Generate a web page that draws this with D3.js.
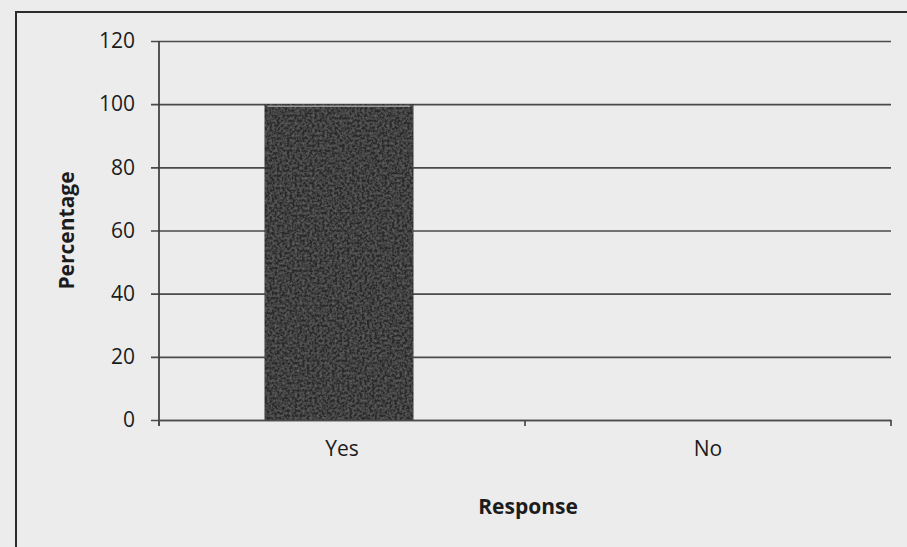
<!DOCTYPE html>
<html>
<head>
<meta charset="utf-8">
<script src="https://cdn.jsdelivr.net/npm/d3@7"></script>
<style>
  html, body { margin: 0; padding: 0; background: #ececec; }
  svg { display: block; }
  text { font-family: "Open Sans", Lato, sans-serif; fill: #1c1c1c; }
</style>
</head>
<body>
<svg id="chart" width="907" height="547"></svg>
<script>
// Survey responses (percentage of respondents)
const categories = ["Yes", "No"];
const values = [100, 0];
const yTicks = [0, 20, 40, 60, 80, 100, 120];
const xTitle = "Response";
const yTitle = "Percentage";

const W = 907, H = 547;
const plot = { left: 159, right: 891, top: 41, bottom: 420 };
const FONT = "'Open Sans', Lato, sans-serif";

const svg = d3.select("#chart");

// Grain texture for the filled bar
const defs = svg.append("defs");
const f = defs.append("filter").attr("id", "grain").attr("x", 0).attr("y", 0).attr("width", 1).attr("height", 1);
f.append("feTurbulence").attr("type", "fractalNoise").attr("baseFrequency", 0.4).attr("numOctaves", 2).attr("seed", 7).attr("result", "noise");
f.append("feColorMatrix").attr("in", "noise").attr("type", "matrix")
  .attr("values", "0 0 0 0 0.33  0 0 0 0 0.33  0 0 0 0 0.33  0 0 0 0.6 -0.2").attr("result", "speck");
f.append("feComposite").attr("in", "speck").attr("in2", "SourceGraphic").attr("operator", "in").attr("result", "specks");
f.append("feMerge").call(m => { m.append("feMergeNode").attr("in", "SourceGraphic"); m.append("feMergeNode").attr("in", "specks"); });

// Chart frame
svg.append("rect")
  .attr("x", 16).attr("y", 12).attr("width", W + 20).attr("height", H + 20)
  .attr("fill", "none").attr("stroke", "#2b2b2b").attr("stroke-width", 2);

const x = d3.scaleBand().domain(categories).range([plot.left, plot.right]).paddingInner(0).paddingOuter(0);
const y = d3.scaleLinear().domain([0, 120]).range([plot.bottom, plot.top]);

// Horizontal gridlines with left tick stubs
const yAxis = d3.axisLeft(y).tickValues(yTicks).tickSize(-(plot.right - plot.left)).tickPadding(24).tickSizeOuter(0);
const gy = svg.append("g").attr("transform", `translate(${plot.left},0)`).call(yAxis);
gy.select(".domain").remove();
gy.selectAll(".tick line").attr("x1", -8).attr("stroke", "#4a4a4a").attr("stroke-width", 1.7);
gy.selectAll(".tick text").attr("font-size", 21).attr("fill", "#1c1c1c").style("font-family", FONT);

// Vertical axis line
svg.append("line")
  .attr("x1", plot.left).attr("x2", plot.left).attr("y1", y(120)).attr("y2", plot.bottom + 6)
  .attr("stroke", "#3a3a3a").attr("stroke-width", 1.7);

// Bars
const bw = x.bandwidth() * 0.407;
const barData = categories.map((c, i) => ({ c, v: values[i] }));
svg.append("g").selectAll("rect").data(barData)
  .join("rect")
  .attr("x", d => x(d.c) + (x.bandwidth() - bw) / 2 - 3)
  .attr("y", d => y(d.v))
  .attr("width", bw)
  .attr("height", d => y(0) - y(d.v))
  .attr("fill", "#2c2c2c")
  .attr("filter", "url(#grain)");

// Light bevel along the bar top
svg.append("g").selectAll("line").data(barData.filter(d => d.v > 0))
  .join("line")
  .attr("x1", d => x(d.c) + (x.bandwidth() - bw) / 2)
  .attr("x2", d => x(d.c) + (x.bandwidth() + bw) / 2 - 6)
  .attr("y1", d => y(d.v) + 2).attr("y2", d => y(d.v) + 2)
  .attr("stroke", "#9a9a9a").attr("stroke-width", 1.5);

// Category axis
const xAxis = d3.axisBottom(x).tickSize(0).tickPadding(21);
const gx = svg.append("g").attr("transform", `translate(0,${plot.bottom})`).call(xAxis);
gx.select(".domain").attr("stroke", "#4a4a4a").attr("stroke-width", 1.7);
gx.selectAll(".tick text").attr("font-size", 21).attr("fill", "#1c1c1c").style("font-family", FONT);

// Category boundary ticks
const bounds = [plot.left, ...categories.slice(1).map(c => x(c)), plot.right];
svg.append("g").selectAll("line").data(bounds).join("line")
  .attr("x1", d => d).attr("x2", d => d)
  .attr("y1", plot.bottom).attr("y2", plot.bottom + 6)
  .attr("stroke", "#4a4a4a").attr("stroke-width", 1.7);

// Axis titles
svg.append("text")
  .attr("x", (plot.left + plot.right) / 2 + 3).attr("y", 514)
  .attr("text-anchor", "middle").attr("font-size", 21).attr("font-weight", "bold")
  .text(xTitle);

svg.append("text")
  .attr("transform", `translate(74,${(plot.top + plot.bottom) / 2}) rotate(-90)`)
  .attr("text-anchor", "middle").attr("font-size", 21).attr("font-weight", "bold")
  .text(yTitle);
</script>
</body>
</html>
